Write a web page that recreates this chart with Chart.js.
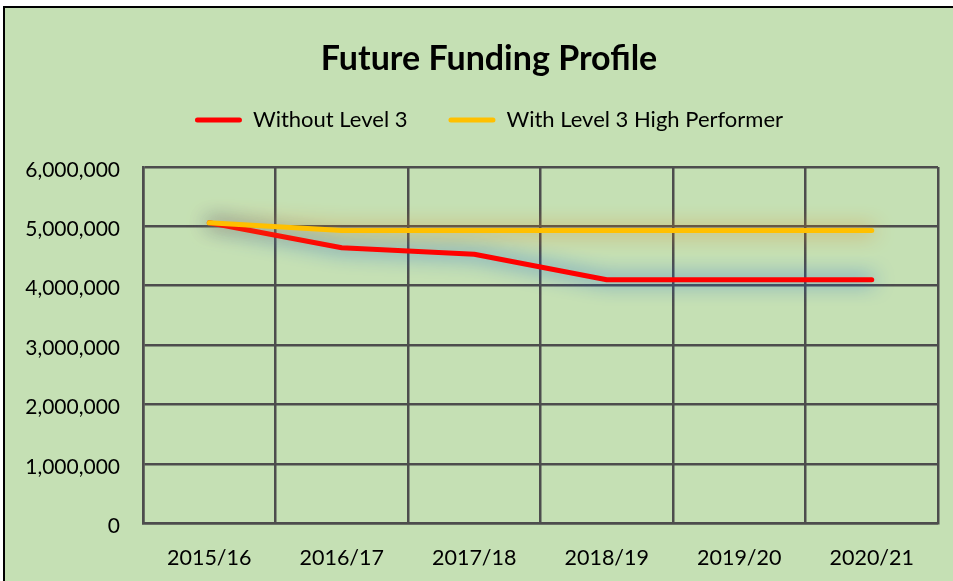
<!DOCTYPE html>
<html>
<head>
<meta charset="utf-8">
<script src="https://cdn.jsdelivr.net/npm/chart.js@4/dist/chart.umd.min.js"></script>
<style>
  html, body { margin: 0; padding: 0; background: #ffffff; overflow: hidden; }
  #frame { position: absolute; left: 3px; top: 6px; width: 980px; height: 600px; border: 2px solid #000; background: #c5e0b4; }
  #wrap { position: absolute; left: 0; top: 0; width: 953px; height: 581px; }
</style>
</head>
<body>
<div id="frame"></div>
<div id="wrap"><canvas id="c" width="953" height="581"></canvas></div>
<script>
const categories = ['2015/16', '2016/17', '2017/18', '2018/19', '2019/20', '2020/21'];
const withoutLevel3 = [5060000, 4640000, 4530000, 4100000, 4100000, 4100000];
const withLevel3HighPerformer = [5060000, 4930000, 4930000, 4930000, 4930000, 4930000];
const seriesNames = ['Without Level 3', 'With Level 3 High Performer'];
const yTicks = [0, 1000000, 2000000, 3000000, 4000000, 5000000, 6000000];

const glowColors = ['rgb(20,95,205)', 'rgb(215,135,40)'];
const glowPlugin = {
  id: 'glow',
  beforeInit(chart) {
    const legend = chart.legend;
    if (legend) {
      const origFit = legend.fit;
      legend.fit = function () { origFit.call(this); this.height += 26; };
    }
  },
  beforeDatasetDraw(chart, args) {
    const ctx = chart.ctx;
    ctx.save();
    ctx.shadowColor = glowColors[args.index];
    ctx.shadowBlur = 20;
    ctx.shadowOffsetX = 0;
    ctx.shadowOffsetY = 0;
  },
  afterDatasetDraw(chart) { chart.ctx.restore(); }
};

const fontFam = 'Lato, "Open Sans", sans-serif';
const gridColor = '#4d4d4d';

new Chart(document.getElementById('c'), {
  type: 'line',
  data: {
    labels: categories,
    datasets: [
      { label: seriesNames[0], data: withoutLevel3, borderColor: '#ff0000', backgroundColor: '#ff0000',
        borderWidth: 5, pointRadius: 0, tension: 0, borderCapStyle: 'round', borderJoinStyle: 'round', order: 1 },
      { label: seriesNames[1], data: withLevel3HighPerformer, borderColor: '#ffc000', backgroundColor: '#ffc000',
        borderWidth: 5, pointRadius: 0, tension: 0, borderCapStyle: 'round', borderJoinStyle: 'round', order: 0 }
    ]
  },
  options: {
    responsive: false,
    animation: false,
    layout: { padding: { left: 40, right: 15, top: 0, bottom: -12 } },
    plugins: {
      title: { display: true, text: 'Future Funding Profile', color: '#000',
        font: { family: fontFam, size: 34, weight: 'bold', lineHeight: 1.2 },
        padding: { top: 39, bottom: -11.8 } },
      legend: {
        display: true,
        labels: {
          color: '#000', font: { family: fontFam, size: 22 },
          boxWidth: 47, boxHeight: 5, padding: 41,
          sort: (a, b) => a.datasetIndex - b.datasetIndex,
          generateLabels(chart) {
            const items = Chart.defaults.plugins.legend.labels.generateLabels(chart);
            items.forEach(it => { it.lineWidth = 0; it.borderRadius = 2.5; });
            return items;
          }
        }
      },
      tooltip: { enabled: false }
    },
    scales: {
      x: {
        offset: true,
        grid: { offset: true, color: gridColor, lineWidth: 2.5, drawTicks: false },
        border: { color: gridColor, width: 2.5 },
        ticks: { color: '#000', font: { family: fontFam, size: 21.5 }, padding: 22, maxRotation: 0 }
      },
      y: {
        min: 0, max: 6000000,
        afterBuildTicks(scale) { scale.ticks = yTicks.map(v => ({ value: v })); },
        afterFit(scale) {
          scale.width = 103;
          scale._computeLabelArea = () => undefined;
        },
        grid: { color: gridColor, lineWidth: 2.5, drawTicks: false },
        border: { color: gridColor, width: 2.5 },
        ticks: { color: '#000', font: { family: fontFam, size: 21 }, padding: 23, labelOffset: 3,
          callback: v => v.toLocaleString('en-US') }
      }
    }
  },
  plugins: [glowPlugin]
});
</script>
</body>
</html>
